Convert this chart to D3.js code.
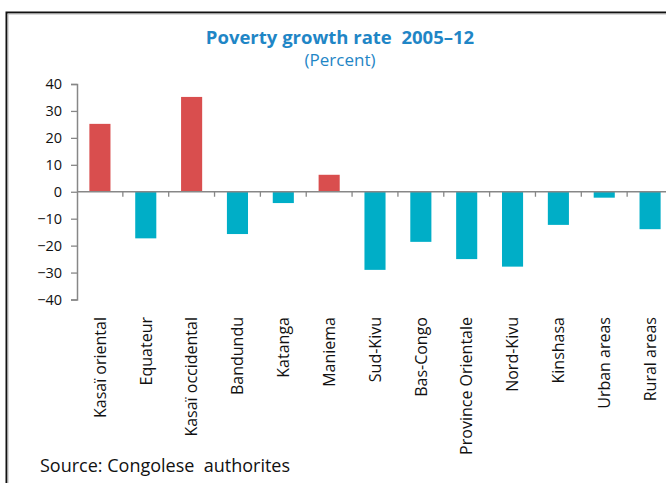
<!DOCTYPE html>
<html>
<head>
<meta charset="utf-8">
<script src="https://cdn.jsdelivr.net/npm/d3@7/dist/d3.min.js"></script>
<style>
  html, body { margin: 0; padding: 0; background: #fff; }
  svg { display: block; }
  text { font-family: "Open Sans", "Noto Sans", sans-serif; }
</style>
</head>
<body>
<svg id="chart" width="666" height="483"></svg>
<script>
// Poverty growth rate by province, 2005–12 (percent)
const categories = [
  "Kasaï oriental", "Equateur", "Kasaï occidental", "Bandundu", "Katanga",
  "Maniema", "Sud-Kivu", "Bas-Congo", "Province Orientale", "Nord-Kivu",
  "Kinshasa", "Urban areas", "Rural areas"
];
const values = [25.2, -17.3, 35.2, -15.7, -4.2, 6.3, -29.0, -18.6, -25.0, -27.8, -12.3, -2.2, -13.9];
const yTicks = [-40, -30, -20, -10, 0, 10, 20, 30, 40];

const titleText = "Poverty growth rate\u00a0\u00a02005\u201312";
const subtitleText = "(Percent)";
const sourceText = "Source: Congolese\u00a0 authorites";

const svg = d3.select("#chart");

// outer frame (double rule: dark outside, light grey inside)
svg.append("rect")
  .attr("x", 6.5).attr("y", 12.5)
  .attr("width", 720).attr("height", 520)
  .attr("fill", "none").attr("stroke", "#111").attr("stroke-width", 2);
svg.append("rect")
  .attr("x", 8).attr("y", 14)
  .attr("width", 720).attr("height", 520)
  .attr("fill", "none").attr("stroke", "#b8b8b8").attr("stroke-width", 1);

const blue = "#1f86c6";
svg.append("text")
  .attr("x", 340).attr("y", 44)
  .attr("text-anchor", "middle")
  .attr("font-size", 18.5).attr("font-weight", 700)
  .attr("fill", blue)
  .text(titleText);
svg.append("text")
  .attr("x", 340).attr("y", 66)
  .attr("text-anchor", "middle")
  .attr("font-size", 17)
  .attr("fill", blue)
  .text(subtitleText);

const x = d3.scaleBand()
  .domain(categories)
  .range([77, 673])
  .paddingInner(0.54)
  .paddingOuter(0.27);

const y = d3.scaleLinear().domain([-40, 40]).range([299.5, 84]);

const axisColor = "#878787";

// bars
svg.append("g").selectAll("rect")
  .data(categories.map((c, i) => ({ c, v: values[i] })))
  .join("rect")
  .attr("x", d => x(d.c))
  .attr("width", x.bandwidth())
  .attr("y", d => y(Math.max(0, d.v)))
  .attr("height", d => Math.abs(y(d.v) - y(0)))
  .attr("fill", d => d.v >= 0 ? "#d94e4e" : "#00aec7");

// y axis
const yAxis = svg.append("g")
  .attr("transform", "translate(77,0)")
  .call(d3.axisLeft(y).tickValues(yTicks).tickSize(6).tickPadding(9).tickFormat(d3.format("d")));
yAxis.select(".domain").attr("stroke", axisColor).attr("stroke-width", 1.5);
yAxis.selectAll(".tick line").attr("stroke", axisColor).attr("stroke-width", 1.3);
yAxis.selectAll(".tick text")
  .attr("font-family", "'Open Sans', 'Noto Sans', sans-serif")
  .attr("font-size", 14.5).attr("fill", "#111");

// zero line with category separators
const step = x.step();
const boundaries = d3.range(1, categories.length).map(k => 77 + k * step);
svg.append("line")
  .attr("x1", 77).attr("x2", 673)
  .attr("y1", y(0)).attr("y2", y(0))
  .attr("stroke", axisColor).attr("stroke-width", 1.6);
svg.append("g").selectAll("line")
  .data(boundaries)
  .join("line")
  .attr("x1", d => d).attr("x2", d => d)
  .attr("y1", y(0)).attr("y2", y(0) + 5)
  .attr("stroke", axisColor).attr("stroke-width", 1.3);

// category labels, rotated
svg.append("g").selectAll("text")
  .data(categories)
  .join("text")
  .attr("transform", d => `translate(${x(d) + x.bandwidth() / 2},317) rotate(-90)`)
  .attr("dy", "0.36em")
  .attr("text-anchor", "end")
  .attr("font-size", 16)
  .attr("fill", "#111")
  .text(d => d);

svg.append("text")
  .attr("x", 40).attr("y", 472)
  .attr("font-size", 18)
  .attr("fill", "#111")
  .text(sourceText);
</script>
</body>
</html>
